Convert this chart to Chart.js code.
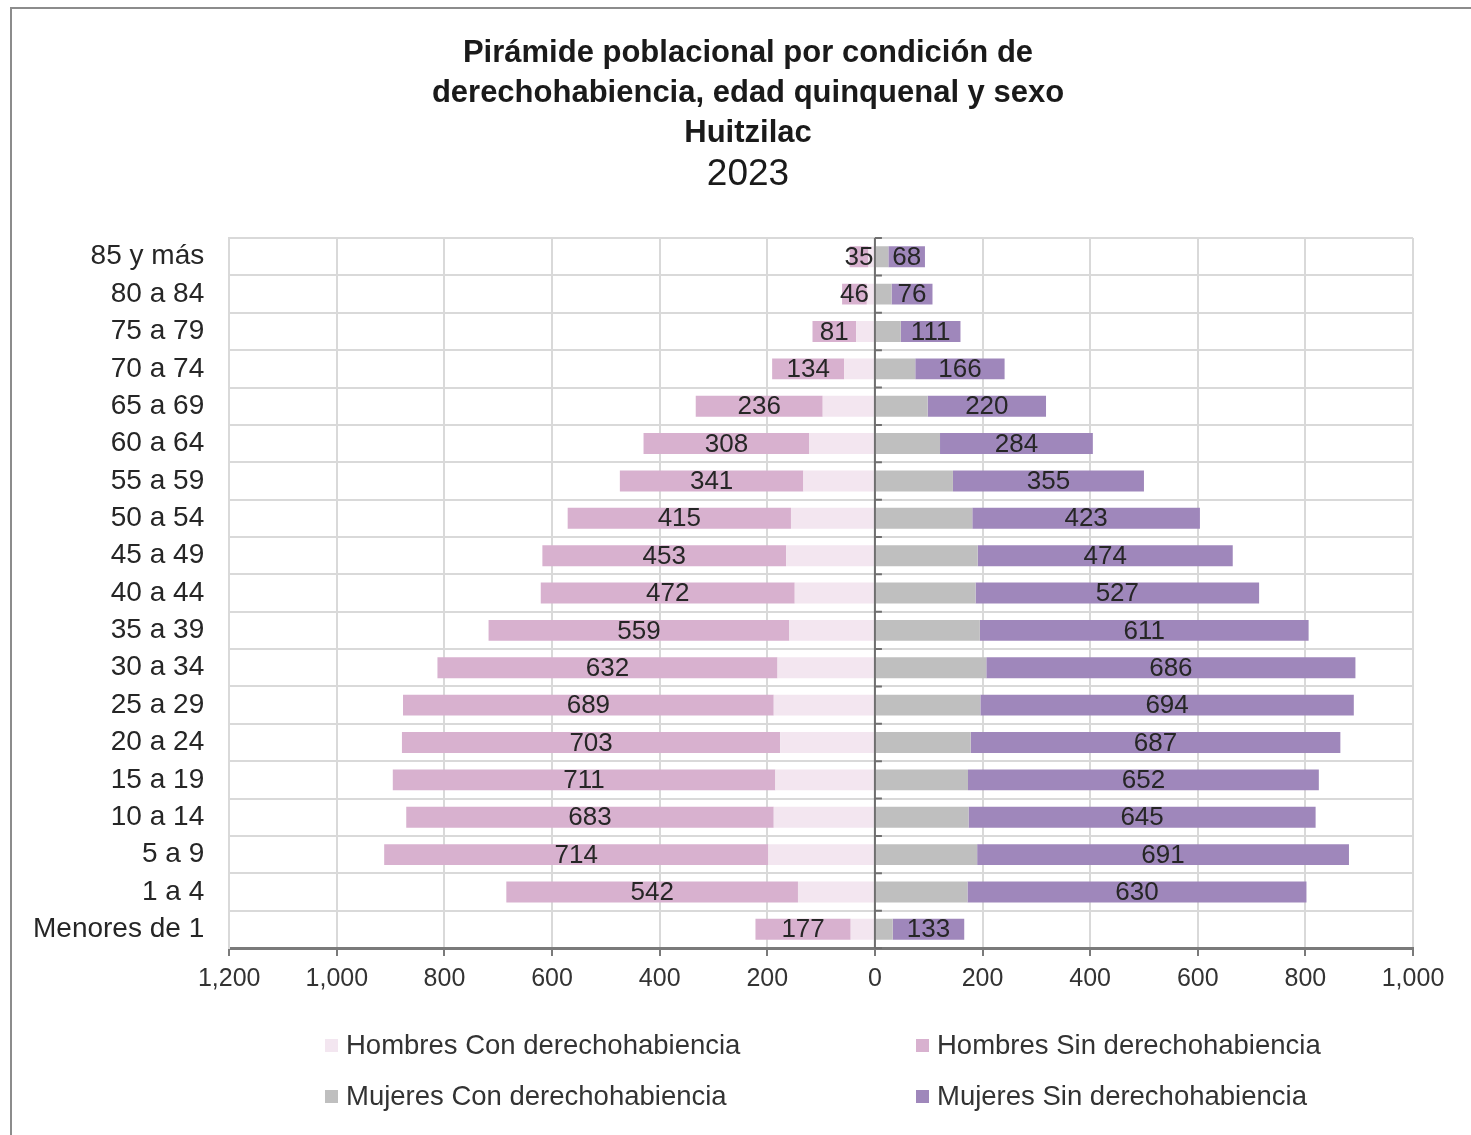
<!DOCTYPE html>
<html>
<head>
<meta charset="utf-8">
<script src="https://cdn.jsdelivr.net/npm/chart.js@4"></script>
<style>
  body { margin: 0; background: #fff; overflow: hidden; }
  #frame { position: absolute; left: 10px; top: 7px; width: 1480px; height: 1140px;
           border-left: 2px solid #8c8c8c; border-top: 2px solid #8c8c8c; }
  #wrap { position: absolute; left: 0; top: 0; width: 1471px; height: 1135px; }
  .leg { position: absolute; font-family: 'Liberation Sans', Arial, sans-serif; font-size: 27.5px;
         color: #333; white-space: nowrap; line-height: 30px; }
  .leg span { display: inline-block; width: 13px; height: 13px; margin-right: 8px; vertical-align: 2px; }
</style>
</head>
<body>
<div id="frame"></div>
<div id="wrap"><canvas id="myChart" width="1471" height="1135"></canvas></div>
<div id="legend"></div>
<script>
const ages = ['85 y más','80 a 84','75 a 79','70 a 74','65 a 69','60 a 64','55 a 59','50 a 54',
  '45 a 49','40 a 44','35 a 39','30 a 34','25 a 29','20 a 24','15 a 19','10 a 14','5 a 9','1 a 4','Menores de 1'];

// hombres (drawn to the left)
const hombresCon = [12, 15, 35, 57, 97, 122, 133, 156, 165, 149, 159, 181, 188, 176, 185, 188, 198, 143, 45];
const hombresSin = [35, 46, 81, 134, 236, 308, 341, 415, 453, 472, 559, 632, 689, 703, 711, 683, 714, 542, 177];
// mujeres (drawn to the right)
const mujeresCon = [25, 31, 48, 75, 98, 121, 145, 181, 191, 187, 195, 207, 196, 178, 173, 174, 190, 172, 33];
const mujeresSin = [68, 76, 111, 166, 220, 284, 355, 423, 474, 527, 611, 686, 694, 687, 652, 645, 691, 630, 133];

const xTicks = [-1200, -1000, -800, -600, -400, -200, 0, 200, 400, 600, 800, 1000];

const colors = ['#f3e6f0', '#d8b1cf', '#bfbfbf', '#9f87bb'];
const names = ['Hombres Con derechohabiencia', 'Hombres Sin derechohabiencia',
  'Mujeres Con derechohabiencia', 'Mujeres Sin derechohabiencia'];

const FONT = "'Liberation Sans', Arial, sans-serif";
const TITLE_CENTER = 748;

// the original title sits a bit right of the plot centre
const shiftTitle = {
  id: 'shiftTitle',
  afterLayout(chart) {
    chart.boxes.forEach(function(b) {
      if (!b.options || b.options.text === undefined || b.position !== 'top') return;
      const d = TITLE_CENTER - (b.left + b.right) / 2;
      b.left += d;
      b.right += d;
    });
  }
};

// labels on the "Sin" bars + the zero axis with its little ticks
const barLabels = {
  id: 'barLabels',
  afterDatasetsDraw(chart) {
    const ctx = chart.ctx;
    const x0 = chart.scales.x.getPixelForValue(0);
    const ys = chart.scales.y;
    ctx.save();
    ctx.strokeStyle = '#6f6f6f';
    ctx.lineWidth = 2;
    ctx.beginPath();
    ctx.moveTo(x0, chart.chartArea.top);
    ctx.lineTo(x0, chart.chartArea.bottom);
    for (let i = 0; i <= ages.length; i++) {
      const y = ys.getPixelForValue(i - 0.5);
      ctx.moveTo(x0, y);
      ctx.lineTo(x0 + 7, y);
    }
    ctx.stroke();

    ctx.font = '26px ' + FONT;
    ctx.fillStyle = '#262626';
    ctx.textAlign = 'center';
    ctx.textBaseline = 'middle';
    [1, 3].forEach(function(di) {
      const meta = chart.getDatasetMeta(di);
      const vals = chart.data.datasets[di].data;
      meta.data.forEach(function(bar, i) {
        const c = bar.getCenterPoint();
        ctx.fillText(Math.abs(vals[i]).toString(), c.x, c.y + 1);
      });
    });
    ctx.restore();
  }
};

new Chart(document.getElementById('myChart').getContext('2d'), {
  type: 'bar',
  data: {
    labels: ages,
    datasets: [
      { label: names[0], data: hombresCon.map(v => -v), backgroundColor: colors[0] },
      { label: names[1], data: hombresSin.map(v => -v), backgroundColor: colors[1] },
      { label: names[2], data: mujeresCon, backgroundColor: colors[2] },
      { label: names[3], data: mujeresSin, backgroundColor: colors[3] }
    ]
  },
  options: {
    indexAxis: 'y',
    responsive: false,
    animation: false,
    barPercentage: 0.56,
    categoryPercentage: 1,
    layout: { padding: { left: 8, right: 58, top: 0, bottom: 133 } },
    plugins: {
      legend: { display: false },
      tooltip: { enabled: false },
      title: {
        display: true,
        text: ['Pirámide poblacional por condición de', 'derechohabiencia, edad quinquenal y sexo', 'Huitzilac'],
        color: '#1a1a1a',
        font: { family: FONT, size: 31, weight: 'bold', lineHeight: 1.29 },
        padding: { top: 33, bottom: 0 }
      },
      subtitle: {
        display: true,
        text: '2023',
        color: '#1a1a1a',
        font: { family: FONT, size: 37, lineHeight: 1.03 },
        padding: { top: 3, bottom: 44 }
      }
    },
    scales: {
      x: {
        stacked: true,
        min: -1200,
        max: 1000,
        afterBuildTicks: function(axis) { axis.ticks = xTicks.map(v => ({ value: v })); },
        ticks: {
          color: '#333',
          font: { family: FONT, size: 25 },
          padding: 8,
          maxRotation: 0,
          callback: v => Math.abs(v).toLocaleString('en-US')
        },
        grid: { color: '#d9d9d9', lineWidth: 2, tickColor: '#7a7a7a', tickLength: 8 },
        border: { color: '#7a7a7a', width: 3 }
      },
      y: {
        stacked: true,
        ticks: { color: '#262626', font: { family: FONT, size: 28 }, padding: 25 },
        grid: { color: '#d9d9d9', lineWidth: 2, drawTicks: false, offset: true },
        border: { color: '#d9d9d9', width: 2 }
      }
    }
  },
  plugins: [shiftTitle, barLabels]
});

// legend, 2 x 2 like the original
const legPos = [[325, 1045], [916, 1045], [325, 1096], [916, 1096]];
const legBox = document.getElementById('legend');
names.forEach(function(n, i) {
  const d = document.createElement('div');
  d.className = 'leg';
  d.style.left = legPos[i][0] + 'px';
  d.style.top = (legPos[i][1] - 15) + 'px';
  d.innerHTML = '<span style="background:' + colors[i] + '"></span>' + n;
  legBox.appendChild(d);
});
</script>
</body>
</html>
